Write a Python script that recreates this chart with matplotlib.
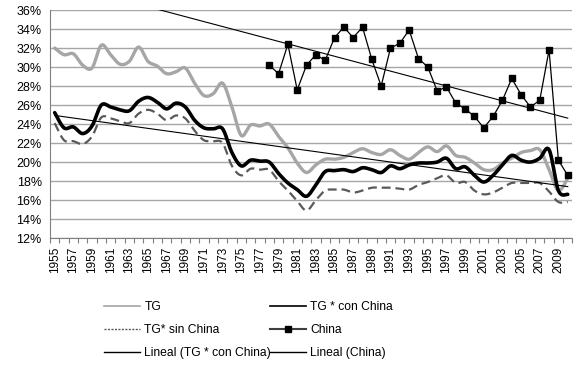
import numpy as np
import matplotlib
matplotlib.use("Agg")
import matplotlib.pyplot as plt
from matplotlib.lines import Line2D

plt.rcParams['font.family'] = ['Liberation Sans', 'DejaVu Sans']

years = list(range(1955, 2011))
tick_labels = [str(y) if (y - 1955) % 2 == 0 else "" for y in years]

tg = [32.0, 31.3, 31.4, 30.2, 29.9, 32.3, 31.3, 30.3, 30.6, 32.1,
      30.6, 30.1, 29.3, 29.5, 29.9, 28.3, 27.0, 27.2, 28.3, 25.8,
      22.8, 23.9, 23.8, 24.0, 22.7, 21.5, 19.9, 18.9, 19.7, 20.3,
      20.3, 20.5, 21.0, 21.4, 21.0, 20.8, 21.3, 20.7, 20.3, 21.0,
      21.6, 21.1, 21.7, 20.7, 20.5, 19.9, 19.2, 19.2, 19.9, 20.4,
      21.0, 21.2, 21.3, 19.2, 17.0, 18.3]

tg_con_china = [25.2, 23.6, 23.7, 23.0, 23.8, 26.0, 25.8, 25.5, 25.4, 26.4,
                26.8, 26.3, 25.6, 26.2, 25.8, 24.4, 23.6, 23.5, 23.5, 21.0,
                19.6, 20.2, 20.1, 20.0, 18.8, 17.8, 17.1, 16.4, 17.6, 19.0,
                19.1, 19.2, 19.0, 19.4, 19.2, 18.9, 19.6, 19.3, 19.7, 19.9,
                19.9, 20.0, 20.4, 19.3, 19.5, 18.6, 17.9, 18.6, 19.7, 20.7,
                20.2, 20.0, 20.4, 21.3, 17.0, 16.6]

tg_sin_china = [24.1, 22.3, 22.2, 21.9, 22.7, 24.7, 24.6, 24.3, 24.1, 25.1,
                25.5, 25.1, 24.4, 24.9, 24.6, 23.3, 22.3, 22.2, 22.0, 19.6,
                18.6, 19.3, 19.2, 19.2, 18.0, 17.0, 15.9, 14.9, 16.0, 17.0,
                17.1, 17.1, 16.8, 17.0, 17.3, 17.3, 17.3, 17.2, 17.1, 17.6,
                17.9, 18.3, 18.6, 17.8, 17.9, 17.0, 16.6, 16.8, 17.3, 17.8,
                17.8, 17.8, 17.8, 16.9, 15.8, 15.8]

china_years = list(range(1978, 2011))
china = [30.2, 29.3, 32.4, 27.6, 30.2, 31.3, 30.7, 33.1, 34.2, 33.1,
         34.2, 30.8, 28.0, 32.0, 32.5, 33.9, 30.9, 30.0, 27.5, 27.9,
         26.2, 25.6, 24.8, 23.6, 24.8, 26.5, 28.8, 27.1, 25.8, 26.5,
         31.8, 20.2, 18.6]


def smooth(x, y, n=16):
    """Excel-style smoothed line (Catmull-Rom Bezier) through the data points."""
    x = np.asarray(x, float)
    y = np.asarray(y, float)
    P = np.column_stack([x, y])
    out = [P[0]]
    m = len(P)
    t = np.linspace(0, 1, n + 1)[1:]
    for i in range(m - 1):
        p0 = P[i - 1] if i > 0 else P[i]
        p1 = P[i]
        p2 = P[i + 1]
        p3 = P[i + 2] if i + 2 < m else P[i + 1]
        c1 = p1 + (p2 - p0) / 6.0
        c2 = p2 - (p3 - p1) / 6.0
        for tt in t:
            b = ((1 - tt) ** 3) * p1 + 3 * ((1 - tt) ** 2) * tt * c1 + 3 * (1 - tt) * tt ** 2 * c2 + tt ** 3 * p2
            out.append(b)
    out = np.array(out)
    return out[:, 0], out[:, 1]


idx = np.arange(len(years))
cidx = np.array([years.index(y) for y in china_years])

fig = plt.figure(figsize=(5.83, 3.72), dpi=100)
ax = fig.add_axes([0.0858, 0.360, 0.896, 0.613])

grid_c = '#A6A6A6'
for v in range(12, 37, 2):
    ax.axhline(v, color=grid_c, lw=1.0, zorder=0)

sx, sy = smooth(idx, tg)
ax.plot(sx, sy, color='#A6A6A6', lw=2.4, zorder=2, solid_capstyle='round')
sx, sy = smooth(idx, tg_sin_china)
ax.plot(sx, sy, color='#595959', lw=1.6, ls=(0, (4, 2.2)), zorder=3)
sx, sy = smooth(idx, tg_con_china)
ax.plot(sx, sy, color='black', lw=2.6, zorder=4, solid_capstyle='round')
ax.plot(cidx, china, color='black', lw=0.9, marker='s', ms=4.3, zorder=5)

# Linear trendlines fitted from the data
k1, b1 = np.polyfit(idx, tg_con_china, 1)
ax.plot(idx, k1 * idx + b1, color='black', lw=0.8, zorder=6)
k2, b2 = np.polyfit(cidx, china, 1)
ax.plot(idx, k2 * idx + b2, color='black', lw=0.8, zorder=6)

ax.set_xlim(-0.5, len(years) - 0.5)
ax.set_ylim(12, 36)
ax.set_yticks(range(12, 37, 2))
ax.set_yticklabels([f"{v}%" for v in range(12, 37, 2)], fontsize=9)
ax.tick_params(axis='y', length=0, pad=6)

ax.set_xticks(idx)
ax.set_xticklabels(tick_labels, rotation=90, fontsize=8.5)
ax.set_xticks(np.arange(-0.5, len(years), 1), minor=True)
ax.tick_params(axis='x', which='major', length=0, pad=6)
ax.tick_params(axis='x', which='minor', length=3.5, color='#808080', width=0.8)

for s in ['top', 'right']:
    ax.spines[s].set_visible(False)
ax.spines['left'].set_color('#808080')
ax.spines['bottom'].set_color('#808080')
ax.spines['left'].set_linewidth(0.8)
ax.spines['bottom'].set_linewidth(0.8)

h_tg = Line2D([], [], color='#A6A6A6', lw=1.2)
h_con = Line2D([], [], color='black', lw=1.2)
h_sin = Line2D([], [], color='#595959', lw=1.0, ls=(0, (1.5, 1)))
h_ch = Line2D([], [], color='#404040', lw=1.5, marker='s', ms=4, markerfacecolor='black', markeredgecolor='black')
h_l1 = Line2D([], [], color='black', lw=1.0)
h_l2 = Line2D([], [], color='black', lw=1.0)

handles = [h_tg, h_sin, h_l1, h_con, h_ch, h_l2]
labels = ['TG', 'TG* sin China', 'Lineal (TG * con China)',
          'TG * con China', 'China', 'Lineal (China)']
fig.legend(handles, labels, ncol=2, loc='upper left',
           bbox_to_anchor=(0.178, 0.19), frameon=False, fontsize=8.7,
           handlelength=3.0, handletextpad=0.35, columnspacing=-0.1,
           labelspacing=0.9, borderpad=0, borderaxespad=0)

fig.savefig('out.png', dpi=100)
